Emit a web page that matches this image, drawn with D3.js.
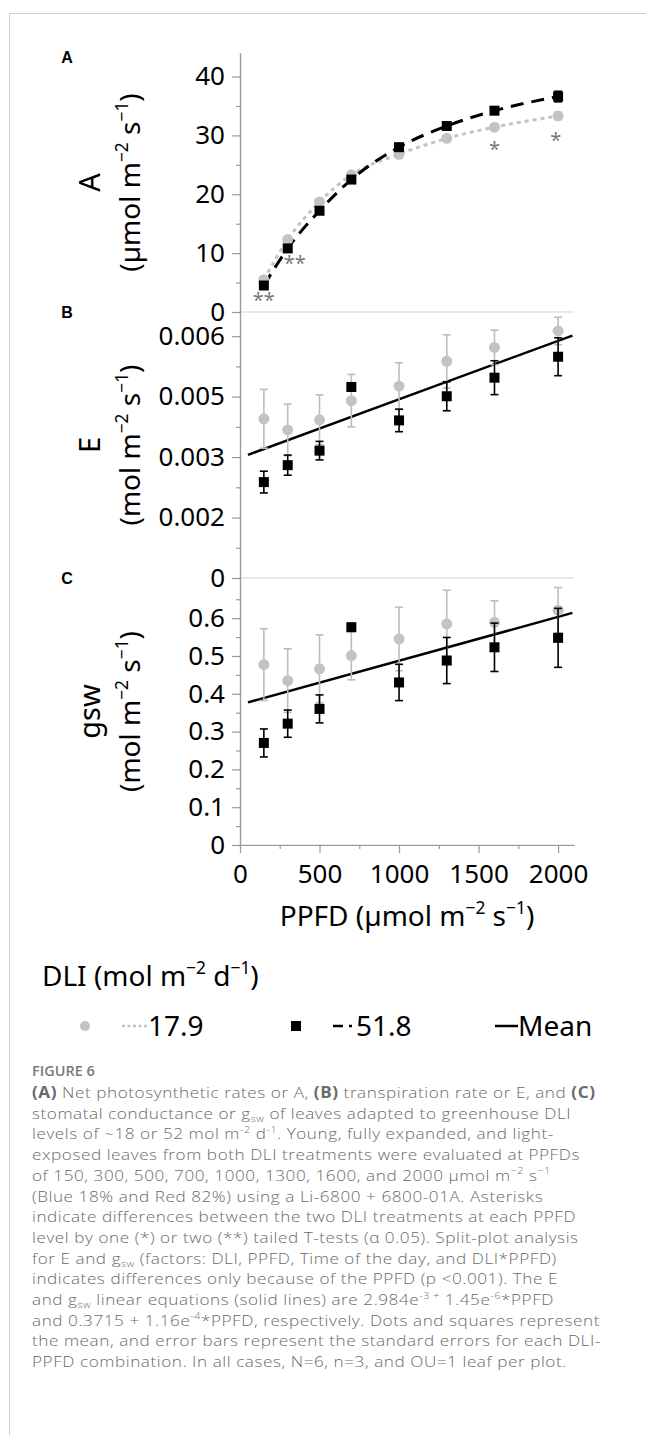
<!DOCTYPE html>
<html lang="en">
<head>
<meta charset="utf-8">
<title>Figure 6 - A, E and gsw vs PPFD</title>
<script src="https://cdn.jsdelivr.net/npm/d3@7"></script>
<style>
  body { margin: 0; background: #fff; }
  svg text { font-family: "Noto Sans", "Open Sans", sans-serif; }
</style>
</head>
<body>
<div id="fig"></div>
<script>
// data
var ppfd = [150, 300, 500, 700, 1000, 1300, 1600, 2000];

var aLow = [5.5, 12.3, 18.7, 23.3, 26.8, 29.5, 31.4, 33.3];
var aLowSe = [0.5, 0.5, 0.4, 0.5, 0.5, 0.4, 0.4, 0.6];
var aHigh = [4.5, 10.8, 17.2, 22.5, 28.0, 31.6, 34.2, 36.6];
var aHighSe = [0.4, 0.5, 0.4, 0.4, 0.4, 0.4, 0.4, 0.9];

var eLow = [0.00395, 0.003675, 0.003925, 0.0044, 0.00476, 0.005375, 0.00572, 0.00613];
var eLowSe = [0.00073, 0.00064, 0.00062, 0.00065, 0.00058, 0.00066, 0.00043, 0.00034];
var eHigh = [0.00238, 0.0028, 0.00316, 0.00474, 0.00391, 0.00451, 0.00497, 0.00549];
var eHighSe = [0.00027, 0.00025, 0.00023, 0.0001, 0.00028, 0.00036, 0.00042, 0.00047];

var gLow = [0.477, 0.435, 0.466, 0.501, 0.545, 0.585, 0.589, 0.621];
var gLowSe = [0.095, 0.084, 0.09, 0.064, 0.084, 0.089, 0.057, 0.06];
var gHigh = [0.27, 0.321, 0.36, 0.576, 0.43, 0.488, 0.523, 0.548];
var gHighSe = [0.037, 0.036, 0.037, 0.01, 0.048, 0.061, 0.064, 0.078];

// linear fits (intercept, slope) from the caption
var eFit = [0.002984, 1.45e-6];
var gFit = [0.3715, 1.16e-4];
var fitRange = [50, 2090];

// asterisks in panel A (ppfd, A value where they sit)
var starPpfd = [150, 345, 1600, 1985];
var starA = [2.6, 8.8, 28.2, 29.8];
var starText = ["**", "**", "*", "*"];

var xTicks = [0, 500, 1000, 1500, 2000];
var xTickLabels = ["0", "500", "1000", "1500", "2000"];
var xMinor = [250, 750, 1250, 1750];
var aTicks = [0, 10, 20, 30, 40];
var aTickLabels = ["0", "10", "20", "30", "40"];
var aMinor = [5, 15, 25, 35];
var eTicks = [0, 0.0015, 0.003, 0.0045, 0.006];
var eTickLabels = ["0", "0.002", "0.003", "0.005", "0.006"];
var eMinor = [0.00075, 0.00225, 0.00375, 0.00525];
var gTicks = [0, 0.1, 0.2, 0.3, 0.4, 0.5, 0.6];
var gTickLabels = ["0", "0.1", "0.2", "0.3", "0.4", "0.5", "0.6"];
var gMinor = [0.05, 0.15, 0.25, 0.35, 0.45, 0.55, 0.65];

var legendLabels = ["17.9", "51.8", "Mean"];

var W = 646, H = 1435;
var grey = "#c3c3c3";
var axisGrey = "#9a9a9a";

var svg = d3.select("#fig").append("svg")
  .attr("width", W).attr("height", H);

// figure frame (left and top edges visible)
svg.append("rect")
  .attr("x", 9.5).attr("y", 13.5)
  .attr("width", 700).attr("height", 1500)
  .attr("fill", "none").attr("stroke", "#cfcfcf");

var x = d3.scaleLinear().domain([0, 2100]).range([240, 574]);

var panels = [
  { key: "A", title: "A", unit: "µmol", top: 53, bottom: 312, domain: [0, 44],
    ticks: aTicks, labels: aTickLabels, minor: aMinor,
    low: aLow, lowSe: aLowSe, high: aHigh, highSe: aHighSe },
  { key: "B", title: "E", unit: "mol", top: 312, bottom: 578, domain: [0, 0.0066],
    ticks: eTicks, labels: eTickLabels, minor: eMinor,
    low: eLow, lowSe: eLowSe, high: eHigh, highSe: eHighSe, fit: eFit },
  { key: "C", title: "gsw", unit: "mol", top: 578, bottom: 845, domain: [0, 0.7063],
    ticks: gTicks, labels: gTickLabels, minor: gMinor,
    low: gLow, lowSe: gLowSe, high: gHigh, highSe: gHighSe, fit: gFit }
];

// writes text with superscript / subscript / bold pieces
function rich(sel, parts, fs) {
  var shift = 0;
  parts.forEach(function (p) {
    var ts = sel.append("tspan").text(p[0]);
    var target = p[1] === "sup" ? -0.42 * fs : p[1] === "sub" ? 0.22 * fs : 0;
    if (target - shift !== 0) ts.attr("dy", target - shift);
    shift = target;
    if (p[1] === "sup" || p[1] === "sub") ts.attr("font-size", fs * 0.62);
    if (p[1] === "b") ts.attr("font-weight", "bold");
  });
}

function styleAxis(g) {
  g.select(".domain").attr("stroke", axisGrey).attr("stroke-width", 1.2);
  g.selectAll(".tick line").attr("stroke", axisGrey).attr("stroke-width", 1.2);
  g.selectAll(".tick text").attr("fill", "#000").style("font-size", "26px")
    .style("font-family", '"Noto Sans", sans-serif');
}

panels.forEach(function (p) {
  var y = d3.scaleLinear().domain(p.domain).range([p.bottom, p.top]);
  var g = svg.append("g");

  // light rule at the panel's zero
  g.append("line")
    .attr("x1", x(0)).attr("x2", x(2100))
    .attr("y1", y(0)).attr("y2", y(0))
    .attr("stroke", "#d4d4d4").attr("stroke-width", 1.2);

  // minor + major y ticks
  g.append("g").attr("transform", "translate(" + x(0) + ",0)")
    .call(d3.axisLeft(y).tickValues(p.minor).tickSize(4).tickSizeOuter(0).tickFormat(""))
    .call(styleAxis);
  g.append("g").attr("transform", "translate(" + x(0) + ",0)")
    .call(d3.axisLeft(y).tickValues(p.ticks).tickSize(8).tickSizeOuter(0).tickPadding(7)
      .tickFormat(function (d, i) { return p.labels[i]; }))
    .call(styleAxis);

  // panel letter
  svg.append("text").attr("x", 67).attr("y", (p.key === "A" ? 57 : p.top) + 6)
    .attr("text-anchor", "middle")
    .style("font-family", '"Liberation Sans", Arial, sans-serif')
    .style("font-weight", "bold").style("font-size", "16px")
    .text(p.key);

  // y titles
  var cy = (p.top + p.bottom) / 2;
  svg.append("text")
    .attr("transform", "translate(100," + cy + ") rotate(-90)")
    .attr("text-anchor", "middle").style("font-size", "29px")
    .text(p.title);
  var ut = svg.append("text")
    .attr("transform", "translate(140," + cy + ") rotate(-90)")
    .attr("text-anchor", "middle").style("font-size", "28px");
  rich(ut, [["(" + p.unit + " m", ""], ["\u22122", "sup"], [" s", ""], ["\u22121", "sup"], [")", ""]], 28);

  // panel A curves, panels B and C fitted means
  if (p.key === "A") {
    var lineGen = d3.line().curve(d3.curveMonotoneX)
      .x(function (d) { return x(d[0]); }).y(function (d) { return y(d[1]); });
    g.append("path").datum(d3.zip(ppfd, p.low)).attr("d", lineGen)
      .attr("fill", "none").attr("stroke", grey).attr("stroke-width", 3)
      .attr("stroke-dasharray", "4,4");
    g.append("path").datum(d3.zip(ppfd, p.high)).attr("d", lineGen)
      .attr("fill", "none").attr("stroke", "#000").attr("stroke-width", 3)
      .attr("stroke-dasharray", "13,8");
  } else {
    g.append("line")
      .attr("x1", x(fitRange[0])).attr("y1", y(p.fit[0] + p.fit[1] * fitRange[0]))
      .attr("x2", x(fitRange[1])).attr("y2", y(p.fit[0] + p.fit[1] * fitRange[1]))
      .attr("stroke", "#000").attr("stroke-width", 2.5);
  }

  function errorBars(vals, se, col) {
    var eb = g.append("g").selectAll("g").data(ppfd).join("g")
      .attr("stroke", col).attr("stroke-width", 1.6);
    eb.append("line")
      .attr("x1", function (d) { return x(d); }).attr("x2", function (d) { return x(d); })
      .attr("y1", function (d, i) { return y(vals[i] - se[i]); })
      .attr("y2", function (d, i) { return y(vals[i] + se[i]); });
    [-1, 1].forEach(function (s) {
      eb.append("line")
        .attr("x1", function (d) { return x(d) - 4; }).attr("x2", function (d) { return x(d) + 4; })
        .attr("y1", function (d, i) { return y(vals[i] + s * se[i]); })
        .attr("y2", function (d, i) { return y(vals[i] + s * se[i]); });
    });
  }

  errorBars(p.low, p.lowSe, "#bdbdbd");
  g.append("g").selectAll("circle").data(ppfd).join("circle")
    .attr("cx", function (d) { return x(d); })
    .attr("cy", function (d, i) { return y(p.low[i]); })
    .attr("r", 5.5).attr("fill", grey);

  errorBars(p.high, p.highSe, "#000");
  g.append("g").selectAll("rect").data(ppfd).join("rect")
    .attr("x", function (d) { return x(d) - 5; })
    .attr("y", function (d, i) { return y(p.high[i]) - 5; })
    .attr("width", 10).attr("height", 10).attr("fill", "#000");

  if (p.key === "A") {
    g.append("g").selectAll("text").data(starPpfd).join("text")
      .attr("x", function (d) { return x(d); })
      .attr("y", function (d, i) { return y(starA[i]) + 10; })
      .attr("text-anchor", "middle").attr("fill", "#777")
      .style("font-size", "20px")
      .text(function (d, i) { return starText[i]; });
  }
});

// x axis
var yBase = 845;
svg.append("g").attr("transform", "translate(0," + yBase + ")")
  .call(d3.axisBottom(x).tickValues(xMinor).tickSize(4).tickSizeOuter(0).tickFormat(""))
  .call(styleAxis);
svg.append("g").attr("transform", "translate(0," + yBase + ")")
  .call(d3.axisBottom(x).tickValues(xTicks).tickSize(8).tickSizeOuter(0).tickPadding(12)
    .tickFormat(function (d, i) { return xTickLabels[i]; }))
  .call(styleAxis);

var xt = svg.append("text").attr("x", 407).attr("y", 926)
  .attr("text-anchor", "middle").style("font-size", "28px");
rich(xt, [["PPFD (µmol m", ""], ["\u22122", "sup"], [" s", ""], ["\u22121", "sup"], [")", ""]], 28);

// legend
var lt = svg.append("text").attr("x", 42).attr("y", 986).style("font-size", "28px");
rich(lt, [["DLI (mol m", ""], ["\u22122", "sup"], [" d", ""], ["\u22121", "sup"], [")", ""]], 28);

var ly = 1026;
var lg = svg.append("g");
lg.append("circle").attr("cx", 85).attr("cy", ly).attr("r", 5).attr("fill", grey);
lg.append("line").attr("x1", 122).attr("x2", 148).attr("y1", ly).attr("y2", ly)
  .attr("stroke", grey).attr("stroke-width", 2.5).attr("stroke-dasharray", "3,2.5");
lg.append("text").attr("x", 148).attr("y", ly + 10).style("font-size", "28px").text(legendLabels[0]);

lg.append("rect").attr("x", 291).attr("y", ly - 5).attr("width", 10).attr("height", 10).attr("fill", "#000");
lg.append("line").attr("x1", 333).attr("x2", 356).attr("y1", ly).attr("y2", ly)
  .attr("stroke", "#000").attr("stroke-width", 2.5).attr("stroke-dasharray", "10,6,3,10");
lg.append("text").attr("x", 356).attr("y", ly + 10).style("font-size", "28px").text(legendLabels[1]);

lg.append("line").attr("x1", 495).attr("x2", 518).attr("y1", ly).attr("y2", ly)
  .attr("stroke", "#000").attr("stroke-width", 2.5);
lg.append("text").attr("x", 518).attr("y", ly + 10).style("font-size", "28px").text(legendLabels[2]);

// caption
svg.append("text").attr("x", 32).attr("y", 1076)
  .style("font-family", '"Open Sans", sans-serif')
  .style("font-size", "14.5px").style("font-weight", 600).attr("fill", "#7a7a7a")
  .text("FIGURE 6");

var caption = [
  [["(A)", "b"], [" Net photosynthetic rates or A, ", ""], ["(B)", "b"], [" transpiration rate or E, and ", ""], ["(C)", "b"]],
  [["stomatal conductance or g", ""], ["sw", "sub"], [" of leaves adapted to greenhouse DLI", ""]],
  [["levels of ~18 or 52 mol m", ""], ["-2", "sup"], [" d", ""], ["-1", "sup"], [". Young, fully expanded, and light-", ""]],
  [["exposed leaves from both DLI treatments were evaluated at PPFDs", ""]],
  [["of 150, 300, 500, 700, 1000, 1300, 1600, and 2000 µmol m", ""], ["\u22122", "sup"], [" s", ""], ["\u22121", "sup"]],
  [["(Blue 18% and Red 82%) using a Li-6800 + 6800-01A. Asterisks", ""]],
  [["indicate differences between the two DLI treatments at each PPFD", ""]],
  [["level by one (*) or two (**) tailed T-tests (\u03b1 0.05). Split-plot analysis", ""]],
  [["for E and g", ""], ["sw", "sub"], [" (factors: DLI, PPFD, Time of the day, and DLI*PPFD)", ""]],
  [["indicates differences only because of the PPFD (p <0.001). The E", ""]],
  [["and g", ""], ["sw", "sub"], [" linear equations (solid lines) are 2.984e", ""], ["-3 +", "sup"], [" 1.45e", ""], ["-6", "sup"], ["*PPFD", ""]],
  [["and 0.3715 + 1.16e", ""], ["-4", "sup"], ["*PPFD, respectively. Dots and squares represent", ""]],
  [["the mean, and error bars represent the standard errors for each DLI-", ""]],
  [["PPFD combination. In all cases, N=6, n=3, and OU=1 leaf per plot.", ""]]
];
// caption face in the reference is wide and light: widen with a horizontal scale
var capScale = 1.12;
caption.forEach(function (line, i) {
  var t = svg.append("text")
    .attr("transform", "translate(32," + (1098 + i * 20.7) + ") scale(" + capScale + ",1)")
    .style("font-family", '"Open Sans", sans-serif')
    .style("font-size", "15.3px").style("font-weight", 300)
    .style("letter-spacing", "0.5px").attr("fill", "#6a6a6a");
  rich(t, line, 15.3);
});
</script>
</body>
</html>
